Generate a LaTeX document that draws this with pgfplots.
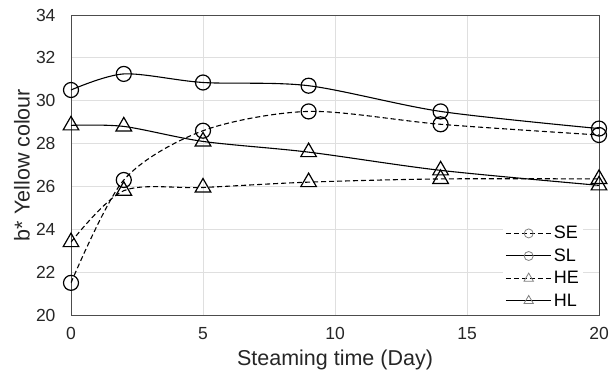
\documentclass[border=0pt]{standalone}
\usepackage{fontspec}
\setmainfont{Liberation Sans}
\usepackage{pgfplots}
\pgfplotsset{compat=1.18}
\begin{document}
\begin{tikzpicture}[x=1pt,y=1pt]
\begin{axis}[
  scale only axis,
  width=528pt, height=300pt,
  xmin=0, xmax=20, ymin=20, ymax=34,
  xtick={0,5,10,15,20}, ytick={20,22,...,34},
  grid=major,
  grid style={gray!25, line width=0.8pt},
  axis line style={black!70, line width=0.8pt},
  tick style={draw=none},
  /pgf/number format/assume math mode=true,
  ticklabel style={font=\fontsize{17.5}{20}\selectfont, text=black!85},
  yticklabel style={xshift=-12pt},
  xticklabel style={yshift=-9pt},
  xlabel={Steaming time (Day)},
  ylabel={b* Yellow colour},
  label style={font=\fontsize{21.5}{24}\selectfont, text=black!85},
  xlabel style={at={(axis description cs:0.5,0)}, anchor=center, yshift=-45pt},
  ylabel style={at={(axis description cs:0,0.5)}, anchor=center, yshift=49pt},
  legend style={at={(0.97,0.01)}, anchor=south east, draw=none, fill=white,
    font=\fontsize{18}{20}\selectfont, row sep=4.5pt, inner sep=2pt},
  legend cell align=left,
  legend image code/.code={
    \draw[#1, mark=none, line width=1pt] (0cm,0cm) -- (1.6cm,0cm);
    \draw[#1, only marks, mark options={draw=gray, scale=0.6, solid, line width=0.8pt}] plot coordinates {(0.8cm,0cm)};
  },
  every axis plot/.append style={line width=1.1pt, black, smooth, tension=0.5},
]
\addplot[dash pattern=on 5pt off 3pt, mark=o, mark size=7.5pt, mark options={solid, line width=1.2pt}] coordinates {
 (0,21.5) (2,26.3) (5,28.6) (9,29.5) (14,28.9) (20,28.4)};
\addlegendentry{SE}
\addplot[solid, mark=o, mark size=7.5pt, mark options={solid, line width=1.2pt}] coordinates {
 (0,30.5) (2,31.25) (5,30.85) (9,30.7) (14,29.5) (20,28.7)};
\addlegendentry{SL}
\addplot[dash pattern=on 5pt off 3pt, mark=triangle, mark size=9pt, mark options={solid, line width=1.2pt}] coordinates {
 (0,23.4) (2,25.8) (5,25.95) (9,26.2) (14,26.35) (20,26.35)};
\addlegendentry{HE}
\addplot[solid, mark=triangle, mark size=9pt, mark options={solid, line width=1.2pt}] coordinates {
 (0,28.85) (2,28.8) (5,28.1) (9,27.6) (14,26.75) (20,26.05)};
\addlegendentry{HL}
\end{axis}
\pgfresetboundingbox
\path ([shift={(-71pt,-57pt)}]current axis.south west) rectangle ([shift={(14pt,15pt)}]current axis.north east);
\end{tikzpicture}
\end{document}
